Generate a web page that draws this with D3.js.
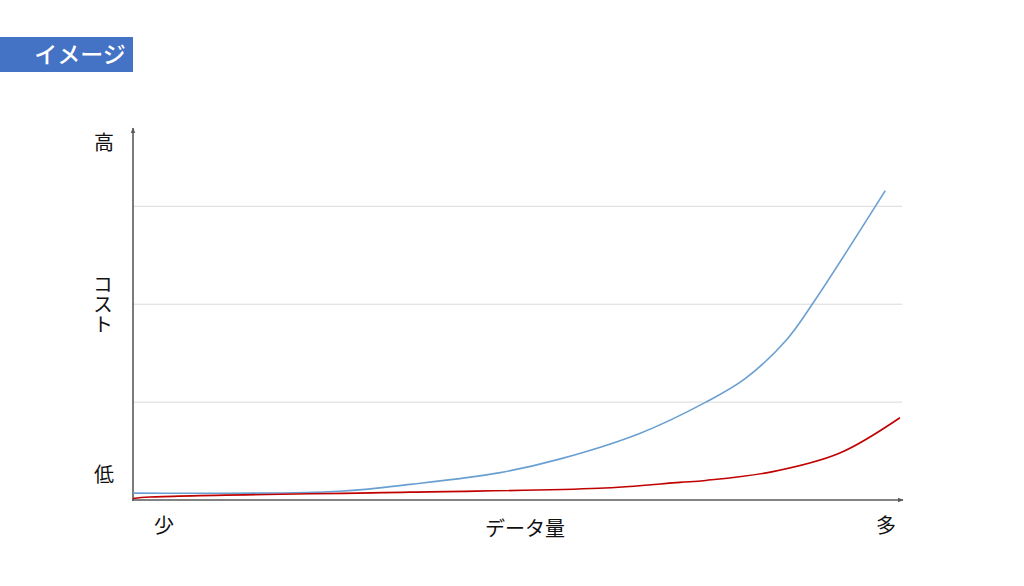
<!DOCTYPE html>
<html><head><meta charset="utf-8">
<script src="https://cdn.jsdelivr.net/npm/d3@7"></script>
<style>body{margin:0;background:#fff;}svg{display:block;font-family:"Noto Sans CJK JP","Noto Sans",sans-serif;}</style>
</head><body>
<svg id="c" width="1024" height="586"></svg>
<script>
const title = "イメージ";
const xLabel = "データ量";
const yLabel = "コスト";
const xEndLabels = ["少", "多"];
const yEndLabels = ["低", "高"];
const gridValues = [1, 2, 3];
// データ量 (0-100) vs コスト
const blueX = [0, 26.9, 36, 47.7, 55.5, 65.8, 74.4, 79.5, 84.8, 88.3, 97.7];
const blueY = [0.07, 0.09, 0.16, 0.28, 0.42, 0.68, 1.0, 1.24, 1.63, 2.01, 3.16];
const redX = [0, 2.2, 36, 60.5, 71, 74.4, 83.1, 91.8, 99.6];
const redY = [0.015, 0.03, 0.08, 0.12, 0.18, 0.2, 0.29, 0.48, 0.84];

const svg = d3.select("#c");
const x = d3.scaleLinear().domain([0, 100]).range([133, 903]);
const y = d3.scaleLinear().domain([0, 3.8]).range([500, 128]);

// title box
svg.append("rect").attr("x", 0).attr("y", 37).attr("width", 133).attr("height", 35).attr("fill", "#4472C4");
svg.append("text").attr("x", 80).attr("y", 63).attr("text-anchor", "middle").attr("fill", "#fff")
  .attr("font-size", 23).attr("font-weight", 500).text(title);

// grid
svg.append("g").selectAll("line").data(gridValues).join("line")
  .attr("x1", x(0)).attr("x2", x(100) - 1).attr("y1", d => y(d)).attr("y2", d => y(d))
  .attr("stroke", "#d9d9d9").attr("stroke-width", 1);

// arrow markers
const defs = svg.append("defs");
defs.append("marker").attr("id", "arr").attr("viewBox", "0 0 10 10").attr("refX", 9).attr("refY", 5)
  .attr("markerWidth", 6).attr("markerHeight", 6).attr("markerUnits", "userSpaceOnUse").attr("orient", "auto")
  .append("path").attr("d", "M0,1 L10,5 L0,9 Z").attr("fill", "#595959");

// axes
const axisColor = "#5a5a5a";
svg.append("line").attr("x1", x(0)).attr("x2", x(0)).attr("y1", y(0) + 1).attr("y2", y(3.8))
  .attr("stroke", axisColor).attr("stroke-width", 1.6).attr("marker-end", "url(#arr)");
svg.append("line").attr("x1", x(0) - 1).attr("x2", x(100)).attr("y1", y(0)).attr("y2", y(0))
  .attr("stroke", axisColor).attr("stroke-width", 1.6).attr("marker-end", "url(#arr)");

// lines
const line = d3.line().x(d => x(d[0])).y(d => y(d[1])).curve(d3.curveCatmullRom.alpha(0.5));
svg.append("path").datum(blueX.map((v, i) => [v, blueY[i]])).attr("d", line)
  .attr("fill", "none").attr("stroke", "#6a9fd2").attr("stroke-width", 1.6);
svg.append("path").datum(redX.map((v, i) => [v, redY[i]])).attr("d", line)
  .attr("fill", "none").attr("stroke", "#c00000").attr("stroke-width", 1.6);

// labels
const fs = 20;
svg.append("text").attr("x", 104).attr("y", 150).attr("text-anchor", "middle").attr("font-size", fs).attr("fill", "#111").text(yEndLabels[1]);
svg.append("text").attr("x", 104).attr("y", 482).attr("text-anchor", "middle").attr("font-size", fs).attr("fill", "#111").text(yEndLabels[0]);
svg.append("text").attr("x", 164).attr("y", 533).attr("text-anchor", "middle").attr("font-size", fs).attr("fill", "#111").text(xEndLabels[0]);
svg.append("text").attr("x", 886).attr("y", 533).attr("text-anchor", "middle").attr("font-size", fs).attr("fill", "#111").text(xEndLabels[1]);
svg.append("text").attr("x", 525).attr("y", 536).attr("text-anchor", "middle").attr("font-size", fs).attr("fill", "#111").text(xLabel);
svg.append("text").attr("x", 103).attr("y", 304).attr("text-anchor", "middle").attr("font-size", fs).attr("fill", "#111")
  .style("writing-mode", "vertical-rl").text(yLabel);
</script>
</body></html>
